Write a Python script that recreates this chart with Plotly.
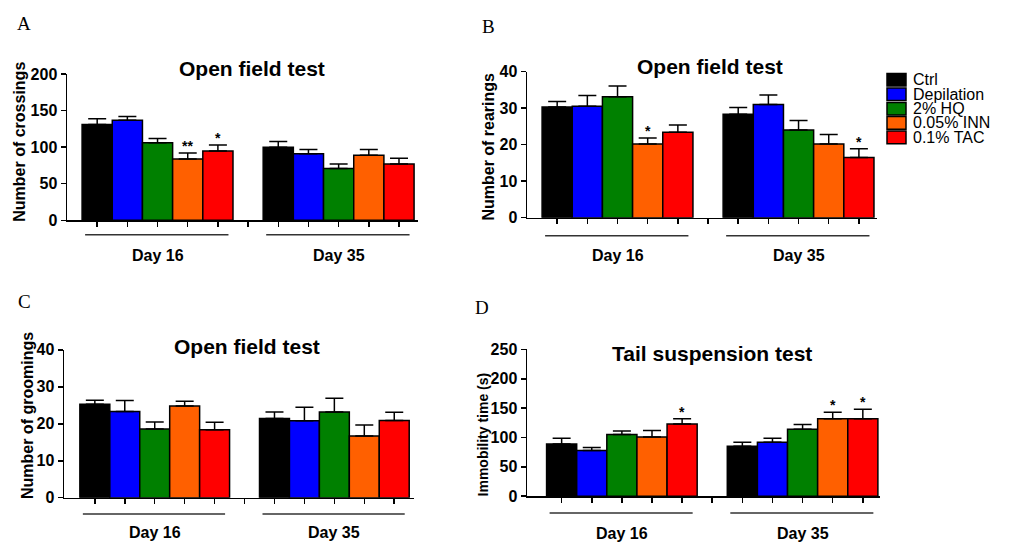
import plotly.graph_objects as go

# ---------------- data ----------------
groups = ["Ctrl", "Depilation", "2% HQ", "0.05% INN", "0.1% TAC"]
colors = ["#000000", "#0000FF", "#008000", "#FF6000", "#FF0000"]
days = ["Day 16", "Day 35"]

crossings_d16 = [131, 137, 106, 84, 95]
crossings_d16_sem = [8, 5, 6, 8, 8]
crossings_d35 = [100, 91, 71, 89, 77]
crossings_d35_sem = [8, 6, 6, 8, 8]
crossings_stars_d16 = ["", "", "", "**", "*"]
crossings_stars_d35 = ["", "", "", "", ""]

rearings_d16 = [30.3, 30.5, 33.1, 20.2, 23.4]
rearings_d16_sem = [1.5, 3.0, 3.0, 1.6, 2.0]
rearings_d35 = [28.3, 31.0, 24.0, 20.2, 16.5]
rearings_d35_sem = [1.9, 2.6, 2.6, 2.6, 2.4]
rearings_stars_d16 = ["", "", "", "*", ""]
rearings_stars_d35 = ["", "", "", "", "*"]

groomings_d16 = [25.3, 23.3, 18.6, 24.8, 18.4]
groomings_d16_sem = [1.1, 3.0, 1.9, 1.3, 2.0]
groomings_d35 = [21.4, 20.8, 23.2, 16.7, 20.9]
groomings_d35_sem = [1.8, 3.7, 3.7, 3.0, 2.2]
groomings_stars_d16 = ["", "", "", "", ""]
groomings_stars_d35 = ["", "", "", "", ""]

immobility_d16 = [89, 78, 105, 101, 123]
immobility_d16_sem = [9.5, 5, 6, 11, 9]
immobility_d35 = [85, 92, 114, 132, 132]
immobility_d35_sem = [7, 6.5, 8, 11, 16]
immobility_stars_d16 = ["", "", "", "", "*"]
immobility_stars_d35 = ["", "", "", "*", "*"]

W, H = 1010, 552
FONT = "Liberation Sans, Arial, sans-serif"


def px(x):
    return x / W


def py(y):
    return 1 - y / H


panels = [
    dict(letter="A", title="Open field test", ytitle="Number of crossings", ytsize=16,
         d16=crossings_d16, e16=crossings_d16_sem, d35=crossings_d35, e35=crossings_d35_sem,
         s16=crossings_stars_d16, s35=crossings_stars_d35, ymax=200, dtick=50,
         xdom=(67, 418), ydom=(68.3, 219), xr=(-1, 10.63),
         letter_pos=(24, 16), title_pos=(252, 62), ytitle_pos=(20, 138),
         line_y=234, day_y=255),
    dict(letter="B", title="Open field test", ytitle="Number of rearings", ytsize=16,
         d16=rearings_d16, e16=rearings_d16_sem, d35=rearings_d35, e35=rearings_d35_sem,
         s16=rearings_stars_d16, s35=rearings_stars_d35, ymax=40, dtick=10,
         xdom=(527, 877), ydom=(65.7, 216.3), xr=(-1, 10.6),
         letter_pos=(488, 19), title_pos=(710, 60), ytitle_pos=(489, 143),
         line_y=235, day_y=255),
    dict(letter="C", title="Open field test", ytitle="Number of groomings", ytsize=16,
         d16=groomings_d16, e16=groomings_d16_sem, d35=groomings_d35, e35=groomings_d35_sem,
         s16=groomings_stars_d16, s35=groomings_stars_d35, ymax=40, dtick=10,
         xdom=(64, 414), ydom=(352.7, 505.3), xr=(-1.03, 10.66),
         letter_pos=(24, 303), title_pos=(247, 349), ytitle_pos=(27, 421),
         line_y=522, day_y=541),
    dict(letter="D", title="Tail suspension test", ytitle="Immobility time (s)", ytsize=14,
         d16=immobility_d16, e16=immobility_d16_sem, d35=immobility_d35, e35=immobility_d35_sem,
         s16=immobility_stars_d16, s35=immobility_stars_d35, ymax=250, dtick=50,
         xdom=(527, 880), ydom=(352.3, 503.7), xr=(-1.15, 10.57),
         letter_pos=(482, 309), title_pos=(712, 356), ytitle_pos=(483, 440),
         line_y=521, day_y=542),
]

fig = go.Figure()
annotations = []
shapes = []
layout = {}

for i, p in enumerate(panels):
    n = i + 1
    xa = "x" if n == 1 else f"x{n}"
    ya = "y" if n == 1 else f"y{n}"
    for g, name in enumerate(groups):
        xs = [g, 6 + g]
        ys = [p["d16"][g], p["d35"][g]]
        es = [p["e16"][g], p["e35"][g]]
        fig.add_trace(go.Bar(
            x=xs, y=ys, width=1, name=name, showlegend=False,
            marker=dict(color=colors[g], line=dict(color="#000000", width=1.5)),
            error_y=dict(type="data", array=es, arrayminus=[0, 0], symmetric=False,
                         color="#000000", thickness=1.5, width=9),
            xaxis=xa, yaxis=ya,
        ))
        for xv, yv, ev, st in zip(xs, ys, es, [p["s16"][g], p["s35"][g]]):
            if st:
                annotations.append(dict(
                    x=xv, y=yv + ev, xref=xa, yref=ya, text=f"<b>{st}</b>",
                    showarrow=False, yanchor="bottom", yshift=-3,
                    font=dict(family=FONT, size=14, color="#000000")))
    xkey = "xaxis" if n == 1 else f"xaxis{n}"
    ykey = "yaxis" if n == 1 else f"yaxis{n}"
    layout[xkey] = dict(
        domain=[px(p["xdom"][0]), px(p["xdom"][1])], range=list(p["xr"]),
        anchor=ya, showgrid=False, zeroline=False, showline=True,
        linecolor="#000000", linewidth=1.5, ticks="outside", ticklen=5,
        tickwidth=1.5, tickcolor="#000000", tickvals=list(range(11)),
        showticklabels=False, fixedrange=True)
    layout[ykey] = dict(
        domain=[py(p["ydom"][1]), py(p["ydom"][0])], range=[0, p["ymax"]],
        anchor=xa, showgrid=False, zeroline=False, showline=True,
        linecolor="#000000", linewidth=1.5, ticks="outside", ticklen=5,
        tickwidth=1.5, tickcolor="#000000", dtick=p["dtick"], tick0=0,
        tickfont=dict(family=FONT, size=16, color="#000000", weight="bold"),
        fixedrange=True)
    # panel letter
    annotations.append(dict(
        x=px(p["letter_pos"][0]), y=py(p["letter_pos"][1]), xref="paper", yref="paper",
        text=p["letter"], showarrow=False, xanchor="center", yanchor="middle",
        font=dict(family="Liberation Serif, Times New Roman, serif", size=19, color="#000000")))
    # title
    annotations.append(dict(
        x=px(p["title_pos"][0]), y=py(p["title_pos"][1]), xref="paper", yref="paper",
        text=f"<b>{p['title']}</b>", showarrow=False, xanchor="center", yanchor="middle",
        font=dict(family=FONT, size=21, color="#000000")))
    # y title
    annotations.append(dict(
        x=px(p["ytitle_pos"][0]), y=py(p["ytitle_pos"][1]), xref="paper", yref="paper",
        text=f"<b>{p['ytitle']}</b>", showarrow=False, textangle=-90,
        xanchor="center", yanchor="middle",
        font=dict(family=FONT, size=p["ytsize"], color="#000000")))
    # group lines and day labels
    for d, day in enumerate(days):
        c = d * 6 + 2
        shapes.append(dict(type="line", xref=xa, yref="paper",
                           x0=c - 2.4, x1=c + 2.35,
                           y0=py(p["line_y"]), y1=py(p["line_y"]),
                           line=dict(color="#333333", width=1.5)))
        annotations.append(dict(
            x=c, y=py(p["day_y"]), xref=xa, yref="paper", text=f"<b>{day}</b>",
            showarrow=False, xanchor="center", yanchor="middle",
            font=dict(family=FONT, size=16, color="#000000")))

# custom legend
leg_x0, leg_x1 = 887, 906
leg_y = [74, 89, 104, 118.5, 133.5]
for name, col, yc in zip(groups, colors, leg_y):
    shapes.append(dict(type="rect", xref="paper", yref="paper",
                       x0=px(leg_x0), x1=px(leg_x1), y0=py(yc + 6.5), y1=py(yc - 6.5),
                       fillcolor=col, line=dict(color="#000000", width=1.5)))
    annotations.append(dict(
        x=px(911), y=py(yc), xref="paper", yref="paper", text=name,
        showarrow=False, xanchor="left", yanchor="middle",
        font=dict(family=FONT, size=16, color="#000000")))

fig.update_layout(
    width=W, height=H, margin=dict(l=0, r=0, t=0, b=0),
    paper_bgcolor="white", plot_bgcolor="white",
    barmode="overlay", showlegend=False,
    annotations=annotations, shapes=shapes,
    font=dict(family=FONT, color="#000000"),
    **layout,
)

fig.write_html(
    "out.html",
    config={"displayModeBar": False, "staticPlot": True},
    post_script="document.body.style.margin='0';document.body.style.overflow='hidden';"
                "document.documentElement.style.overflow='hidden';",
)
